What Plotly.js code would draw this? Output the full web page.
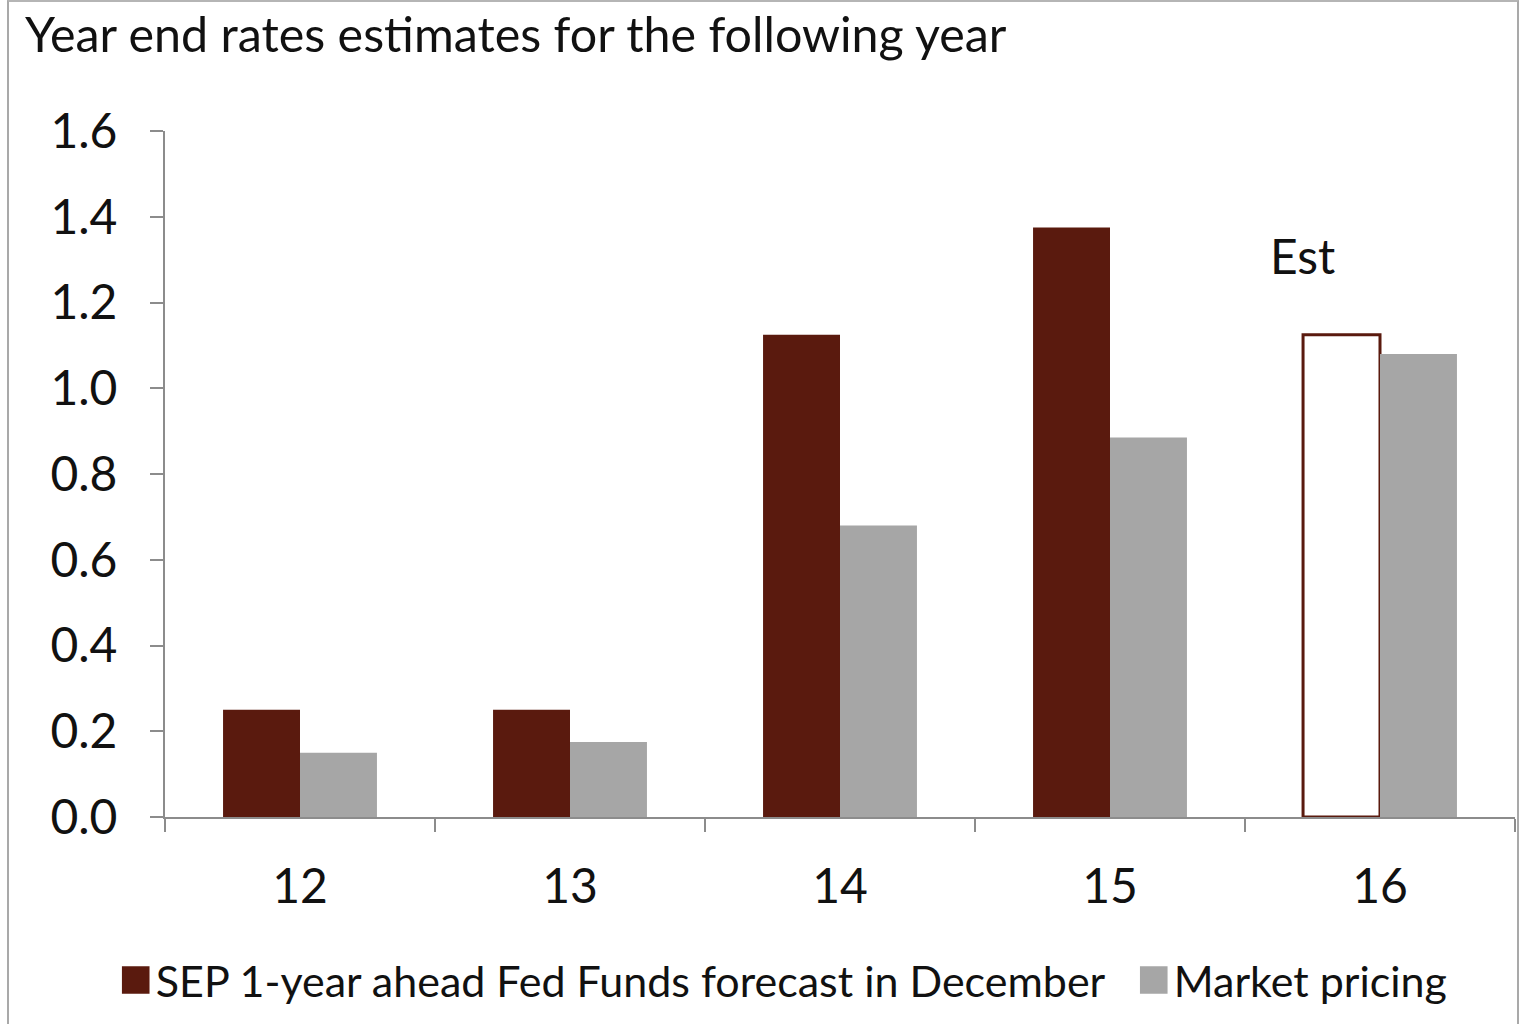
<!DOCTYPE html>
<html>
<head>
<meta charset="utf-8">
<script src="https://cdn.plot.ly/plotly-3.0.1.min.js"></script>
<style>
  html, body { margin: 0; padding: 0; background: #ffffff; }
  #wrap { position: relative; width: 1520px; height: 1024px; overflow: hidden; }
  #chart { width: 1520px; height: 1024px; }
  #frame { position: absolute; left: 7px; top: 0px; width: 1508px; height: 1030px;
           border-left: 2px solid #a9a9a9; border-top: 2px solid #b5b5b5; border-right: 2px solid #a9a9a9;
           pointer-events: none; }
</style>
</head>
<body>
<div id="wrap">
  <div id="chart"></div>
  <div id="frame"></div>
</div>
<script>
// ---- data ----
const years = ['12', '13', '14', '15', '16'];
const sepForecast = [0.25, 0.25, 1.125, 1.375, 1.125];
const marketPricing = [0.15, 0.175, 0.68, 0.885, 1.08];
const yTicks = [0, 0.2, 0.4, 0.6, 0.8, 1.0, 1.2, 1.4, 1.6];
const seriesNames = ['SEP 1-year ahead Fed Funds forecast in December', 'Market pricing'];
const chartTitle = 'Year end rates estimates for the following year';
const estLabel = 'Est';

// ---- styles ----
const FONT = 'Lato, "Open Sans", sans-serif';
const SEP_COLOR = '#5a1a0e';
const MKT_COLOR = '#a6a6a6';
const AXIS_COLOR = '#8c8c8c';
const TEXT_COLOR = '#111111';
const lastIdx = years.length - 1;

const sepFill = years.map((y, i) => i === lastIdx ? '#ffffff' : SEP_COLOR);
const sepLineW = years.map((y, i) => i === lastIdx ? 3 : 0);

const traces = [
  {
    type: 'bar', name: seriesNames[0], x: years, y: sepForecast,
    marker: { color: sepFill, line: { color: SEP_COLOR, width: sepLineW } },
    legend: 'legend',
    hoverinfo: 'x+y+name'
  },
  {
    type: 'bar', name: seriesNames[1], x: years, y: marketPricing,
    marker: { color: MKT_COLOR, line: { width: 0 } },
    legend: 'legend2',
    hoverinfo: 'x+y+name'
  }
];

const legendBase = {
  orientation: 'h', xanchor: 'left', y: -0.2376, yanchor: 'middle',
  font: { family: FONT, size: 43, color: TEXT_COLOR },
  bgcolor: 'rgba(0,0,0,0)', itemclick: false, itemdoubleclick: false
};

const layout = {
  width: 1520, height: 1024,
  margin: { l: 165, r: 5, t: 131, b: 207, pad: 0 },
  paper_bgcolor: '#ffffff', plot_bgcolor: '#ffffff',
  font: { family: FONT, color: TEXT_COLOR, size: 46 },
  title: {
    text: chartTitle,
    xref: 'container', yref: 'container',
    x: 25 / 1520, xanchor: 'left',
    y: 1 - 35 / 1024, yanchor: 'middle',
    font: { family: FONT, size: 48.4, color: TEXT_COLOR }
  },
  barmode: 'group', bargap: 0.43, bargroupgap: 0,
  showlegend: true,
  legend: Object.assign({}, legendBase, { x: -0.0365 }),
  legend2: Object.assign({}, legendBase, { x: 0.7176 }),
  xaxis: {
    type: 'category', range: [-0.5, years.length - 0.5],
    showline: true, linecolor: AXIS_COLOR, linewidth: 2,
    ticks: 'outside', tickson: 'boundaries', ticklen: 13, tickwidth: 2, tickcolor: AXIS_COLOR,
    showgrid: false, zeroline: false,
    tickfont: { family: FONT, size: 48, color: TEXT_COLOR },
    ticklabelstandoff: 26, fixedrange: true
  },
  yaxis: {
    range: [0, 1.6], tickvals: yTicks, tickformat: '.1f',
    showline: true, linecolor: AXIS_COLOR, linewidth: 2,
    ticks: 'outside', ticklen: 13, tickwidth: 2, tickcolor: AXIS_COLOR,
    showgrid: false, zeroline: false,
    tickfont: { family: FONT, size: 48, color: TEXT_COLOR },
    ticklabelstandoff: 23, fixedrange: true
  },
  annotations: [
    {
      text: estLabel, xref: 'x', yref: 'y', x: lastIdx, y: 1.31,
      xshift: -78, showarrow: false, xanchor: 'center', yanchor: 'middle',
      font: { family: FONT, size: 48, color: TEXT_COLOR }
    }
  ]
};

Plotly.newPlot('chart', traces, layout, { displayModeBar: false, staticPlot: true }).then(function (gd) {
  // enlarge legend swatches to match the reference's larger squares
  gd.querySelectorAll('.legendpoints path').forEach(function (p) {
    p.setAttribute('transform', 'translate(20,0) scale(2.3)');
  });
});
</script>
</body>
</html>
